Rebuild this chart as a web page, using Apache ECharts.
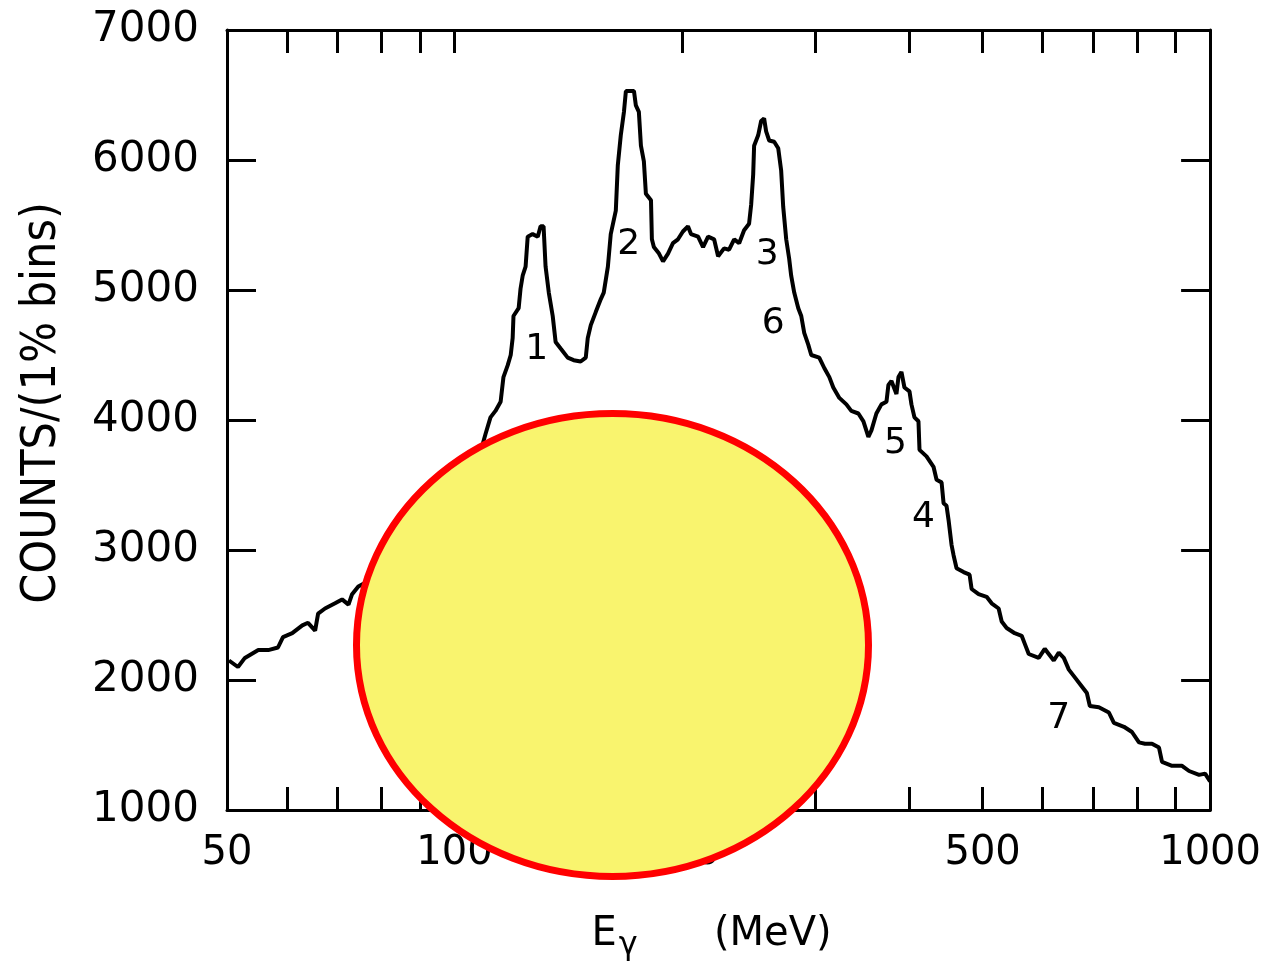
<!DOCTYPE html>
<html>
<head>
<meta charset="utf-8">
<script src="https://cdn.jsdelivr.net/npm/echarts@6/dist/echarts.min.js"></script>
<style>
html,body{margin:0;padding:0;background:#fff;}
#chart{width:1264px;height:967px;}
</style>
</head>
<body>
<div id="chart"></div>
<script>
// Photon energy (MeV), log scale
const energy = [50.3, 51.7, 52.8, 55.0, 56.7, 58.4, 59.3, 61.0, 62.9, 64.0, 65.4, 66.0, 67.4, 69.5, 71.0, 72.4, 73.2, 74.6, 77.4, 81.0, 84.8, 88.8, 92.9, 97.3, 101.9, 105.0, 107.6, 109.9, 111.6, 113.3, 115.1, 116.1, 117.6, 118.7, 119.4, 119.7, 121.6, 122.3, 123.1, 124.2, 125.0, 126.9, 128.9, 130.0, 131.2, 132.0, 133.3, 134.9, 136.1, 138.2, 141.2, 143.8, 146.9, 149.2, 150.1, 151.5, 153.8, 156.2, 157.6, 159.6, 161.0, 163.5, 164.5, 166.0, 167.6, 168.6, 172.8, 173.8, 175.4, 176.5, 178.1, 179.2, 182.0, 182.5, 183.6, 186.5, 188.8, 191.7, 194.6, 197.6, 200.6, 203.7, 205.6, 210.1, 213.3, 216.6, 220.6, 223.3, 227.4, 230.9, 234.5, 238.1, 241.7, 245.4, 247.0, 248.5, 249.2, 252.3, 254.6, 256.9, 258.5, 260.9, 264.9, 268.2, 270.6, 272.3, 274.8, 277.3, 279.0, 281.6, 285.1, 287.7, 290.3, 293.9, 296.6, 303.9, 308.6, 313.4, 317.2, 323.1, 330.1, 335.1, 342.4, 347.7, 353.0, 356.3, 361.7, 367.3, 373.0, 375.2, 378.7, 384.5, 386.9, 390.4, 394.0, 400.1, 402.5, 406.2, 411.2, 412.5, 421.4, 430.5, 434.5, 441.2, 443.9, 447.9, 450.7, 454.8, 457.6, 461.8, 471.8, 480.5, 483.5, 493.9, 506.1, 513.9, 525.0, 529.9, 538.0, 551.3, 563.2, 568.4, 575.4, 593.2, 604.2, 611.6, 621.0, 630.6, 640.3, 650.2, 662.2, 676.5, 686.9, 693.2, 712.5, 734.6, 745.9, 769.1, 788.1, 805.1, 820.0, 837.7, 855.8, 863.7, 890.5, 918.1, 937.9, 967.0, 984.9, 1000];
// Counts per 1% bin
const counts = [2150, 2100, 2170, 2230, 2230, 2250, 2330, 2360, 2420, 2440, 2380, 2510, 2550, 2590, 2620, 2580, 2660, 2720, 2770, 2850, 2920, 3010, 3100, 3210, 3360, 3520, 3700, 3890, 4020, 4070, 4140, 4330, 4420, 4500, 4630, 4800, 4860, 5010, 5110, 5180, 5410, 5430, 5410, 5490, 5490, 5180, 4980, 4800, 4600, 4550, 4480, 4460, 4450, 4480, 4630, 4730, 4830, 4930, 4980, 5180, 5430, 5610, 5960, 6190, 6370, 6530, 6530, 6420, 6370, 6110, 5990, 5740, 5690, 5390, 5330, 5280, 5220, 5280, 5360, 5390, 5450, 5490, 5430, 5410, 5330, 5410, 5390, 5260, 5320, 5310, 5390, 5360, 5460, 5510, 5660, 5890, 6110, 6190, 6300, 6320, 6220, 6150, 6140, 6090, 5920, 5640, 5390, 5240, 5110, 4980, 4860, 4800, 4670, 4580, 4500, 4480, 4400, 4330, 4250, 4170, 4120, 4070, 4050, 3990, 3870, 3920, 4050, 4120, 4140, 4270, 4300, 4200, 4330, 4370, 4250, 4220, 4120, 4020, 3990, 3770, 3720, 3640, 3540, 3520, 3360, 3340, 3230, 3040, 2960, 2860, 2830, 2810, 2700, 2660, 2640, 2590, 2550, 2450, 2400, 2360, 2340, 2280, 2200, 2170, 2240, 2200, 2150, 2210, 2170, 2080, 2020, 1950, 1900, 1800, 1790, 1750, 1670, 1640, 1600, 1520, 1510, 1510, 1480, 1370, 1340, 1340, 1300, 1270, 1280, 1220];

// Peak annotations
const peakLabels = ['1', '2', '3', '6', '5', '4', '7'];
const peakLabelEnergy = [128.5, 170.1, 259.3, 264.1, 383.3, 417.5, 630.6];
const peakLabelCounts = [4540, 5350, 5270, 4740, 3820, 3250, 1700];

// Axis ticks / labels
const xTickValues = [60, 70, 80, 90, 100, 200, 300, 400, 500, 600, 700, 800, 900];
const xLabelValues = [50, 100, 200, 500, 1000];
const yMin = 1000, yMax = 7000, yStep = 1000;

const chart = echarts.init(document.getElementById('chart'), null, {renderer: 'canvas'});

const lineData = energy.map((e, i) => [e, counts[i]]);
const labelData = peakLabels.map((t, i) => ({name: t, value: [peakLabelEnergy[i], peakLabelCounts[i]]}));

const FONT = 'DejaVu Sans';
const axisLineStyle = {color: '#000', width: 3};
const plain = v => String(Math.round(v));

function xAxisDef(pos, showLabels) {
  return {
    type: 'log', logBase: 10, min: 50, max: 1000, position: pos,
    axisLine: {show: true, onZero: false, lineStyle: axisLineStyle},
    axisTick: {show: true, inside: true, length: 23, customValues: xTickValues, lineStyle: {color: '#000', width: 3}},
    minorTick: {show: false},
    splitLine: {show: false},
    axisLabel: showLabels ? {
      show: true, customValues: xLabelValues, formatter: plain, color: '#000', fontFamily: FONT, fontSize: 40, margin: 24
    } : {show: false},
    name: showLabels ? 'E{s|γ}      (MeV)' : '',
    nameLocation: 'middle',
    nameGap: 98,
    nameTextStyle: {
      color: '#000', fontFamily: FONT, fontSize: 40, padding: [0, 14, 0, 0],
      rich: {s: {fontSize: 32, fontFamily: FONT, color: '#000', padding: [22, 0, 0, 2]}}
    }
  };
}

function yAxisDef(pos, showLabels) {
  return {
    type: 'value', min: yMin, max: yMax, interval: yStep, position: pos,
    axisLine: {show: true, onZero: false, lineStyle: axisLineStyle},
    axisTick: {show: true, inside: true, length: 29, lineStyle: {color: '#000', width: 3}},
    splitLine: {show: false},
    axisLabel: showLabels ? {show: true, formatter: plain, color: '#000', fontFamily: FONT, fontSize: 42, margin: 28} : {show: false},
    name: showLabels ? 'COUNTS/(1% bins)' : '',
    nameLocation: 'middle',
    nameGap: 160,
    nameRotate: 90,
    nameTextStyle: {color: '#000', fontFamily: 'DejaVu Sans Condensed, DejaVu Sans', fontSize: 48, padding: [0, 0, 0, 34]}
  };
}

const option = {
  backgroundColor: '#fff',
  animation: false,
  grid: {left: 227, right: 53, top: 30, bottom: 145, containLabel: false},
  xAxis: [xAxisDef('bottom', true), xAxisDef('top', false)],
  yAxis: [yAxisDef('left', true), yAxisDef('right', false)],
  series: [
    {
      type: 'line', xAxisIndex: 0, yAxisIndex: 0,
      data: lineData, showSymbol: false, symbol: 'none',
      lineStyle: {color: '#000', width: 4}, z: 5
    },
    {
      type: 'scatter', xAxisIndex: 0, yAxisIndex: 0,
      data: labelData, symbolSize: 0,
      itemStyle: {opacity: 1},
      label: {show: true, position: 'inside', formatter: '{b}', color: '#000', fontFamily: FONT, fontSize: 36},
      z: 6
    }
  ],
  graphic: [{
    type: 'ellipse',
    shape: {cx: 612.5, cy: 645, rx: 256, ry: 231.5},
    style: {fill: '#F9F46E', stroke: '#FF0000', lineWidth: 7},
    z: 100
  }]
};
chart.setOption(option);
</script>
</body>
</html>
